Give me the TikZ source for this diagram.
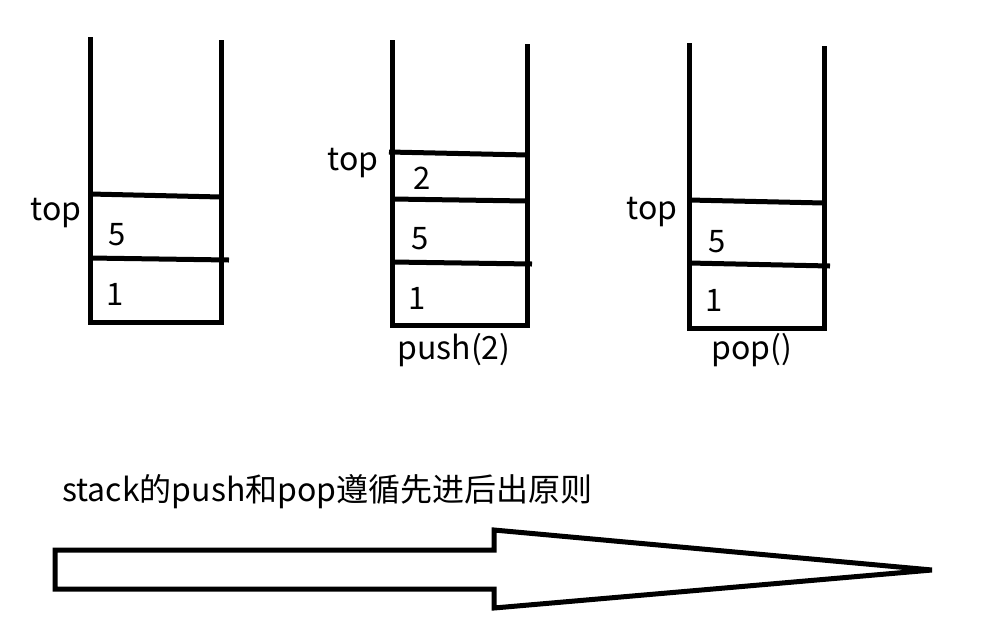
\documentclass[tikz,border=0pt]{standalone}
\usepackage{fontspec}
\setmainfont{Noto Sans CJK SC}
\begin{document}
\begin{tikzpicture}[x=1pt,y=-1pt,
  wall/.style={line width=5pt,line cap=butt},
  lbl/.style={inner sep=0pt,font=\fontsize{32}{34}\selectfont},
  num/.style={inner sep=0pt,font=\fontsize{31}{33}\selectfont}]
\useasboundingbox[fill=white] (0,0) rectangle (1004,630);
% stack 1
\draw[wall,line join=miter] (90,37) -- (90,322) -- (221,322) -- (221,40);
\draw[wall] (90,194) -- (221,197);
\draw[wall] (90,258) -- (229,260);
\node[lbl] (t1) at (56,213) {top};
\node[num] (a5) at (117,235) {5};
\node[num] (a1) at (115,294) {1};
% stack 2
\draw[wall,line join=miter] (392,40) -- (392,325) -- (527,325) -- (527,44);
\draw[wall] (389,152) -- (528,155);
\draw[wall] (392,199) -- (527,201);
\draw[wall] (392,262) -- (532,264);
\node[lbl] (t2) at (353,163) {top};
\node[num] (b2) at (422,178) {2};
\node[num] (b5) at (420,239) {5};
\node[num] (b1) at (417,298) {1};
\node[lbl] (push) at (454,350) {push(2)};
% stack 3
\draw[wall,line join=miter] (689,43) -- (689,328) -- (824,328) -- (824,46);
\draw[wall] (689,200) -- (824,203);
\draw[wall] (689,263) -- (830,266);
\node[lbl] (t3) at (652,212) {top};
\node[num] (c5) at (717,242) {5};
\node[num] (c1) at (714,300) {1};
\node[lbl] (pop) at (752,350) {pop()};
% caption
\node[lbl,anchor=west] (cap) at (62,492) {stack的push和pop遵循先进后出原则};
% big arrow
\draw[line width=5pt,line join=miter] (55,550) -- (494,550) -- (494,530) -- (932,570) -- (494,608) -- (494,589) -- (55,589) -- cycle;
\end{tikzpicture}
\end{document}
